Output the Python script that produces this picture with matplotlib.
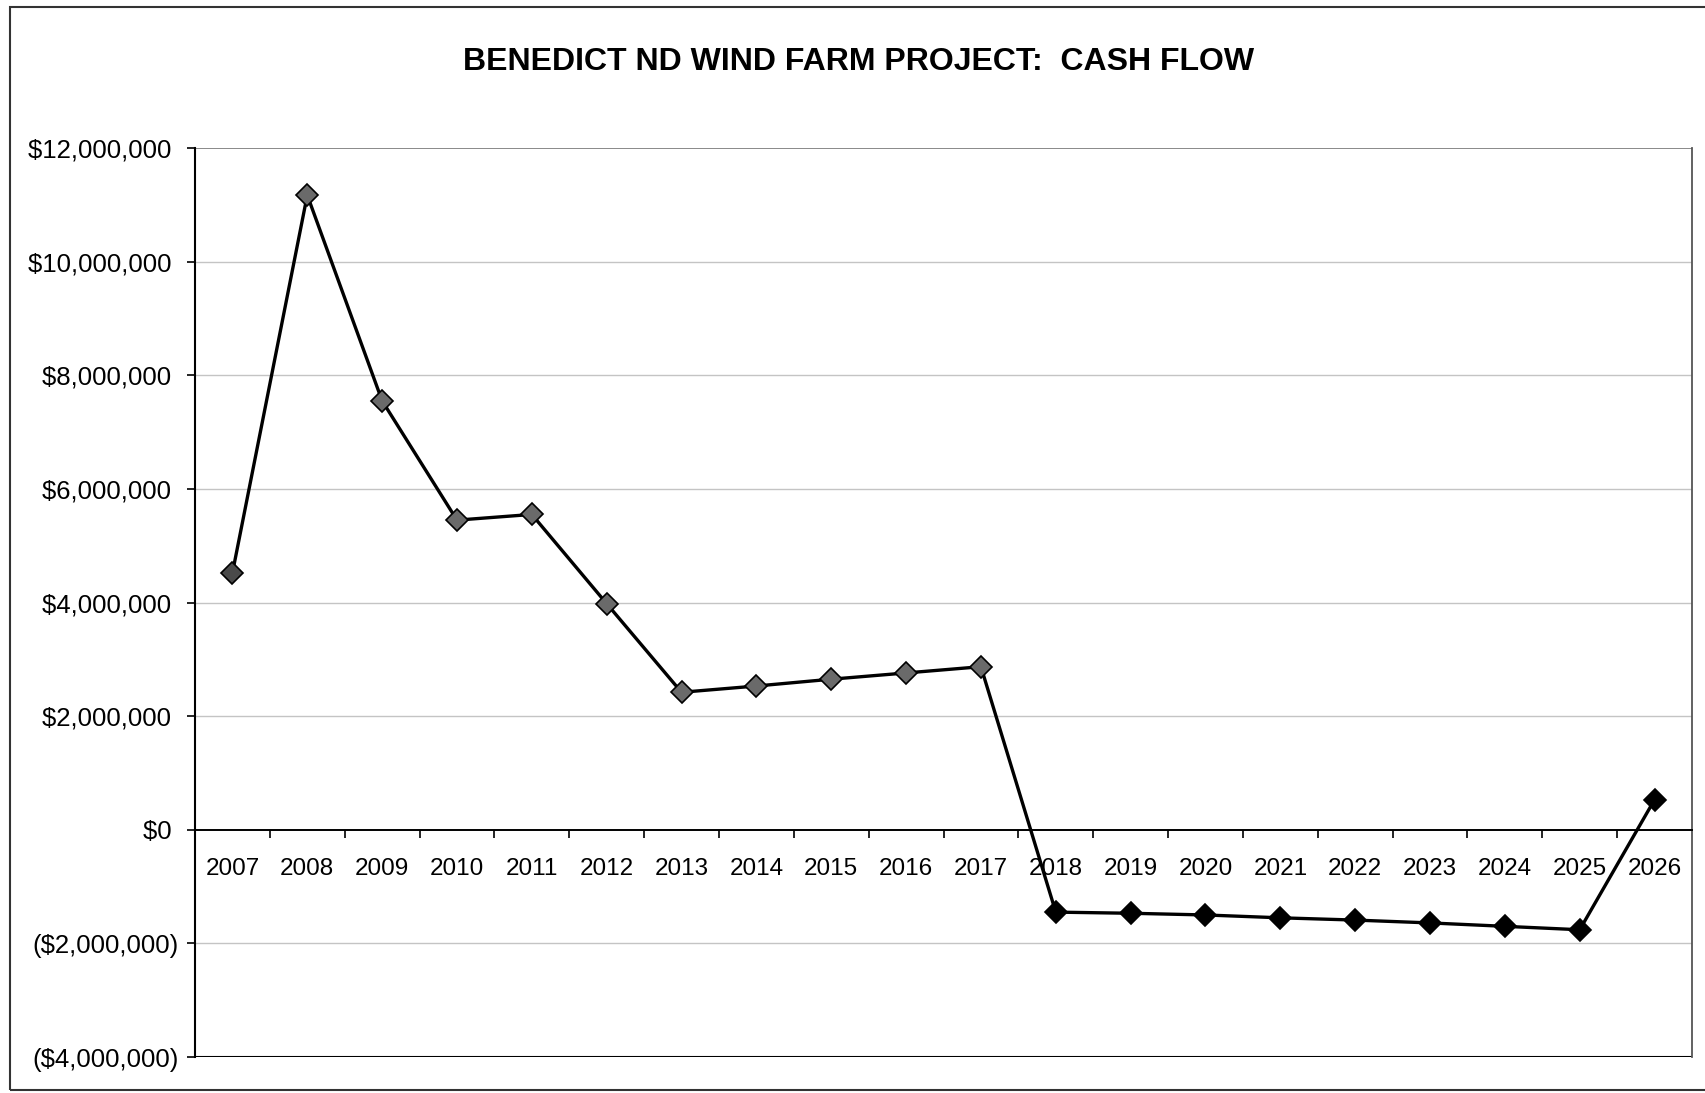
import matplotlib.pyplot as plt
from matplotlib.patches import Rectangle
from matplotlib.ticker import FuncFormatter, FixedLocator

plt.rcParams['font.family'] = ['Liberation Sans', 'DejaVu Sans']

# Cash flow by year
years = [str(y) for y in range(2007, 2027)]
cash_flow = [4520000, 11170000, 7550000, 5450000, 5550000, 3980000, 2420000,
             2530000, 2650000, 2760000, 2870000,
             -1450000, -1470000, -1500000, -1550000, -1590000, -1640000,
             -1700000, -1760000, 530000]
marker_colors = ['#4a4a4a'] + ['#6a6a6a'] * 10 + ['#000000'] * 9

y_ticks = [-4000000, -2000000, 0, 2000000, 4000000, 6000000, 8000000,
           10000000, 12000000]


def money(v, pos=None):
    if v < 0:
        return f"(${abs(v):,.0f})"
    return f"${v:,.0f} "


fig = plt.figure(figsize=(17.05, 10.93), dpi=100)
ax = fig.add_axes([195 / 1705, 1 - 1057 / 1093, 1497 / 1705, (1057 - 148) / 1093])

x = list(range(len(years)))
ax.plot(x, cash_flow, color='black', lw=2.4, zorder=3)
for xi, v, c in zip(x, cash_flow, marker_colors):
    ax.plot(xi, v, marker='D', markersize=11.5, markerfacecolor=c,
            markeredgecolor='black', markeredgewidth=1.2, zorder=4)

ax.set_xlim(-0.5, len(years) - 0.5)
ax.set_ylim(-4000000, 12000000)

# gridlines
for v in y_ticks:
    if v in (0, -4000000, 12000000):
        continue
    ax.axhline(v, color='#c4c4c4', lw=1, zorder=1)
ax.axhline(12000000, color='#808080', lw=1.3, zorder=2)
ax.axhline(-4000000, color='black', lw=1.5, zorder=2)

# x axis sits on the zero line
ax.spines['bottom'].set_position(('data', 0))
ax.spines['bottom'].set_linewidth(1.4)
ax.spines['top'].set_visible(False)
ax.spines['left'].set_linewidth(1.5)
ax.spines['right'].set_color('#555555')
ax.spines['right'].set_linewidth(1.3)

ax.set_xticks(x)
ax.set_xticklabels(years)
ax.xaxis.set_minor_locator(FixedLocator([i + 0.5 for i in range(len(years) - 1)]))
ax.tick_params(axis='x', which='major', length=0, pad=20, labelsize=17.5)
ax.tick_params(axis='x', which='minor', length=6, width=1.2, direction='out')

ax.set_yticks(y_ticks)
ax.yaxis.set_major_formatter(FuncFormatter(money))
ax.tick_params(axis='y', length=6, width=1.2, pad=6, labelsize=18.5)

fig.text(859 / 1705, 1 - 62 / 1093, "BENEDICT ND WIND FARM PROJECT:  CASH FLOW",
         ha='center', va='center', fontsize=23, fontweight='bold')

# outer chart border
fig.patches.append(Rectangle((10 / 1705, 3 / 1093), 1.0, 1 - 10 / 1093,
                             transform=fig.transFigure, fill=False,
                             edgecolor='#333333', lw=1.5))

fig.savefig("out.png", dpi=100)
plt.close(fig)
